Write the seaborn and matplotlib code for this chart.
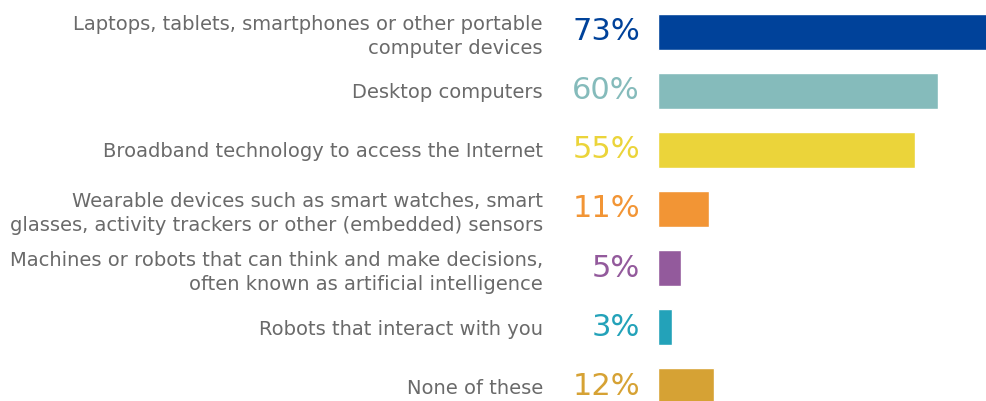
import matplotlib
matplotlib.use("Agg")
import matplotlib.pyplot as plt
import matplotlib.transforms as mtransforms
import pandas as pd
import seaborn as sns

categories = [
    "Laptops, tablets, smartphones or other portable\ncomputer devices",
    "Desktop computers",
    "Broadband technology to access the Internet",
    "Wearable devices such as smart watches, smart\nglasses, activity trackers or other (embedded) sensors",
    "Machines or robots that can think and make decisions,\noften known as artificial intelligence",
    "Robots that interact with you",
    "None of these",
]
values = [73, 60, 55, 11, 5, 3, 12]
colors = ["#00429A", "#85BBBB", "#EBD43A", "#F29535", "#935A9C", "#23A2B9", "#D6A234"]

df = pd.DataFrame({"category": categories, "value": values})

sns.set_theme(style="white")
plt.rcParams["font.family"] = ["DejaVu Sans"]

fig = plt.figure(figsize=(9.87, 4.01), dpi=100)
ax = fig.add_axes([658 / 987, 0, (987 - 658) / 987, 1])

sns.barplot(data=df, x="value", y="category", hue="category", palette=colors,
            order=categories, hue_order=categories, width=0.61, dodge=False,
            legend=False, ax=ax, saturation=1)

ax.set_xlim(0, 70.5)
ax.set_ylim(6.254, -0.542)
ax.set_xlabel("")
ax.set_ylabel("")
ax.set_xticks([])
for s in ax.spines.values():
    s.set_visible(False)

ax.tick_params(axis="y", length=0, pad=115 * 72 / 100, labelsize=14,
               labelcolor="#6a6a6a")
for lbl in ax.get_yticklabels():
    lbl.set_horizontalalignment("right")
    lbl.set_linespacing(1.32)

offset = mtransforms.ScaledTranslation(-18 / 100, 0, fig.dpi_scale_trans)
trans = mtransforms.blended_transform_factory(ax.transAxes, ax.transData) + offset
for i, (v, c) in enumerate(zip(values, colors)):
    ax.text(0, i, f"{v}%", transform=trans, ha="right", va="center",
            fontsize=22, color=c)

fig.savefig("out.png", dpi=100)
